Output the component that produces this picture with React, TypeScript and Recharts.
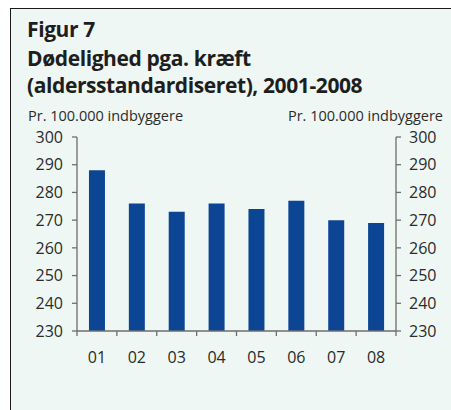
import React from "react";
import { BarChart, Bar, XAxis, YAxis } from "recharts";

const categories = ["01", "02", "03", "04", "05", "06", "07", "08"];
const deathRates = [288, 276, 273, 276, 274, 277, 270, 269];
const yTicks = [230, 240, 250, 260, 270, 280, 290, 300];

const titleFig = "Figur 7";
const titleLine1 = "Dødelighed pga. kræft";
const titleLine2 = "(aldersstandardiseret), 2001-2008";
const unitLabel = "Pr. 100.000 indbyggere";

const data = categories.map((c, i) => ({ year: c, value: deathRates[i] }));

const AXIS = "#6e6e6e";
const TEXT = "#2b2b2b";
const FONT = "'Open Sans', sans-serif";

const XTick = (props: any) => {
  const { x, y, payload, index } = props;
  const off = payload && typeof payload.offset === "number" && payload.offset > 0 ? payload.offset : 319 / 16;
  const n = categories.length;
  return (
    <g>
      <line x1={x - off} x2={x - off} y1={y - 5} y2={y} stroke={AXIS} strokeWidth={1.3} />
      {index === n - 1 ? (
        <line x1={x + off} x2={x + off} y1={y - 5} y2={y} stroke={AXIS} strokeWidth={1.3} />
      ) : null}
      <text x={x} y={y + 27} textAnchor="middle" fill={TEXT} fontSize={16} fontFamily={FONT}>
        {payload.value}
      </text>
    </g>
  );
};

export default function App() {
  const titleStyle: React.CSSProperties = {
    position: "absolute",
    left: 27,
    fontSize: 21,
    fontWeight: 700,
    color: "#1e1e1e",
    lineHeight: "27px",
    letterSpacing: "-0.4px",
    whiteSpace: "nowrap",
  };
  return (
    <div
      style={{
        position: "absolute",
        left: 0,
        top: 0,
        width: 451,
        height: 410,
        background: "#ffffff",
        fontFamily: FONT,
        overflow: "hidden",
      }}
    >
      <div
        style={{
          position: "absolute",
          left: 10,
          top: 8,
          right: 0,
          bottom: 0,
          background: "#eef7f3",
          borderLeft: "1.5px solid #1a1a1a",
          borderTop: "1.5px solid #1a1a1a",
        }}
      />
      <div style={{ ...titleStyle, top: 16 }}>{titleFig}</div>
      <div style={{ ...titleStyle, top: 45 }}>
        <div>{titleLine1}</div>
        <div>{titleLine2}</div>
      </div>
      <div style={{ position: "absolute", left: 28, top: 106, fontSize: 14.5, color: TEXT, lineHeight: "20px", whiteSpace: "nowrap" }}>
        {unitLabel}
      </div>
      <div style={{ position: "absolute", right: 8, top: 106, fontSize: 14.5, color: TEXT, lineHeight: "20px", whiteSpace: "nowrap" }}>
        {unitLabel}
      </div>
      <div style={{ position: "absolute", left: 0, top: 0 }}>
        <BarChart
          width={451}
          height={410}
          data={data}
          margin={{ top: 137, right: 5, bottom: 39, left: 17 }}
          barCategoryGap="30%"
        >
          <XAxis
            dataKey="year"
            height={40}
            tickLine={false}
            tickSize={5}
            tickMargin={0}
            axisLine={{ stroke: AXIS, strokeWidth: 1.3 }}
            tick={<XTick />}
            interval={0}
          />
          <YAxis
            yAxisId="left"
            orientation="left"
            width={60}
            domain={[230, 300]}
            ticks={yTicks}
            allowDataOverflow
            tickSize={5}
            tickMargin={9}
            axisLine={{ stroke: AXIS, strokeWidth: 1.3 }}
            tickLine={{ stroke: AXIS, strokeWidth: 1.3 }}
            tick={{ fill: TEXT, fontSize: 16, fontFamily: FONT }}
          />
          <YAxis
            yAxisId="right"
            orientation="right"
            width={50}
            domain={[230, 300]}
            ticks={yTicks}
            allowDataOverflow
            tickSize={5}
            tickMargin={8}
            axisLine={{ stroke: AXIS, strokeWidth: 1.3 }}
            tickLine={{ stroke: AXIS, strokeWidth: 1.3 }}
            tick={{ fill: TEXT, fontSize: 16, fontFamily: FONT, textAnchor: "start" }}
          />
          <Bar yAxisId="left" dataKey="value" fill="#0b4594" isAnimationActive={false} />
        </BarChart>
      </div>
    </div>
  );
}
